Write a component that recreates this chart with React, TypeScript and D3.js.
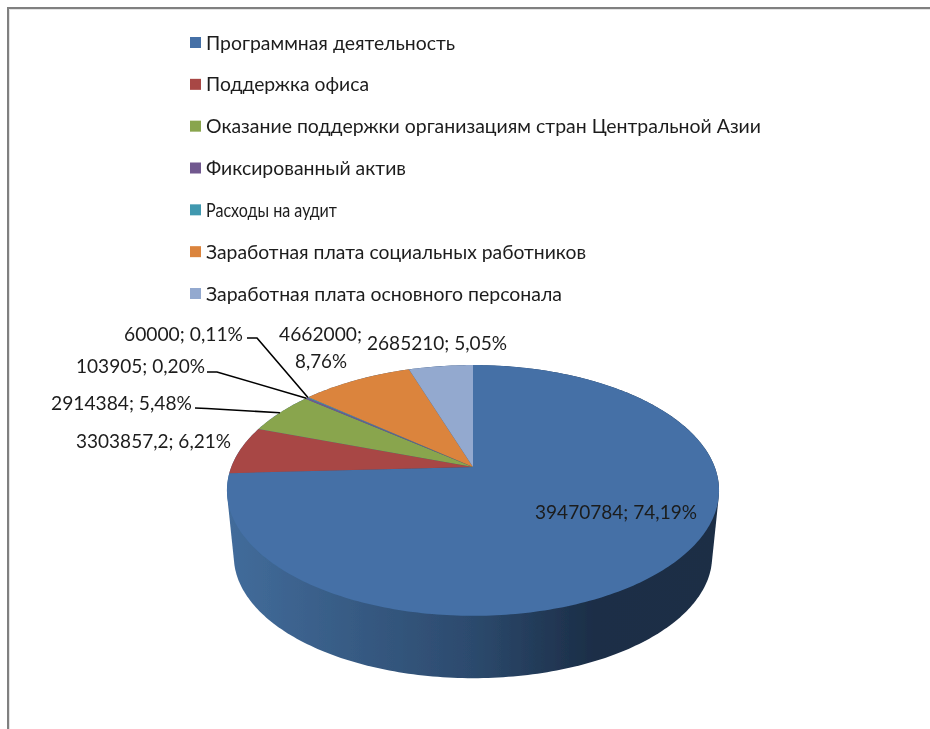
import React from "react";
import * as d3 from "d3";

const categories = [
  "Программная деятельность",
  "Поддержка офиса",
  "Оказание поддержки организациям стран Центральной Азии",
  "Фиксированный актив",
  "Расходы на аудит",
  "Заработная плата социальных работников",
  "Заработная плата основного персонала",
];
const values = [39470784, 3303857.2, 2914384, 103905, 60000, 4662000, 2685210];
const colors = ["#4470a6", "#a84644", "#89a54e", "#71588f", "#4198af", "#db843d", "#93a9cf"];

const dataLabels = [
  { lines: ["39470784; 74,19%"], x: 535, y: 512, w: [162] },
  { lines: ["3303857,2; 6,21%"], x: 76, y: 441, w: [155] },
  { lines: ["2914384; 5,48%"], x: 51, y: 403, w: [141] },
  { lines: ["103905; 0,20%"], x: 76, y: 366, w: [129] },
  { lines: ["60000; 0,11%"], x: 124, y: 334, w: [119] },
  { lines: ["4662000;", "8,76%"], x: 279, y: 334, w: [83, 52], dx: [0, 16] },
  { lines: ["2685210; 5,05%"], x: 367, y: 343, w: [140] },
];

const legendWidths = [249, 163, 555, 200, 131, 380, 356];
const leaderStarts: Record<number, [number, number][]> = {
  2: [[195, 408], [207, 408.5]],
  3: [[207, 372], [217, 372]],
  4: [[247, 338], [257, 338]],
};

const FONT = "Lato, 'Open Sans', 'Noto Sans', sans-serif";
const W = 930, H = 729;
const cx = 473, cy = 467;
const k = -0.187, Rx = 241.7, Ry = 121, depth = 66.5, shrink = 0.972;

const project = (a: number, s = 1, dy = 0): [number, number] => {
  const X = Math.sin(a), Y = -Math.cos(a);
  const d = 1 + k * Y;
  return [cx + (s * Rx * X) / d, cy + dy + (s * Ry * Y) / d];
};

const arcs = d3.pie<number>().sort(null)(values);
const line = d3.line();

const slicePath = (a0: number, a1: number) => {
  const steps = Math.max(2, Math.ceil((a1 - a0) * 60));
  const pts = d3.range(steps + 1).map((i) => project(a0 + ((a1 - a0) * i) / steps));
  return line([[cx, cy], ...pts]) + "Z";
};

const rim = d3.range(0, 360, 1).map((d) => (d * Math.PI) / 180);
const hull = d3.polygonHull([
  ...rim.map((a) => project(a)),
  ...rim.map((a) => project(a, shrink, depth)),
])!;
const sidePath = line(hull) + "Z";

const legendY = d3.scaleLinear().domain([0, 6]).range([43, 294]);

export default function App() {
  return (
    <svg width={W} height={H} style={{ position: "absolute", left: 0, top: 0, display: "block" }} fontFamily={FONT}>
      <defs>
        <linearGradient id="side" gradientUnits="userSpaceOnUse" x1={228} x2={719} y1={0} y2={0}>
          <stop offset="0" stopColor="#426c9b" />
          <stop offset="0.5" stopColor="#2c4a6d" />
          <stop offset="0.75" stopColor="#1b2d46" />
          <stop offset="1" stopColor="#1b2d45" />
        </linearGradient>
        <filter id="soft" x="-5%" y="-5%" width="110%" height="110%">
          <feGaussianBlur stdDeviation="0.45" />
        </filter>
      </defs>
      <rect width={W} height={H} fill="#ffffff" />
      <path d={`M8,${H}V8H${W}`} fill="none" stroke="#808080" strokeWidth={2} />
      <path d={`M9.5,${H}V9.5H${W}`} fill="none" stroke="#e4e4e4" strokeWidth={1} />

      <g filter="url(#soft)">
        <path d={sidePath} fill="url(#side)" />
        {arcs.map((a, i) => (
          <path key={i} d={slicePath(a.startAngle, a.endAngle)} fill={colors[i]} />
        ))}
        {categories.map((c, i) => (
          <g key={c}>
            <rect x={190} y={legendY(i) - 6} width={11} height={11} fill={colors[i]} />
            <text x={206} y={legendY(i) + 6.5} fontSize={19.5} fill="#1c1c1c" textLength={legendWidths[i]} lengthAdjust="spacingAndGlyphs">
              {c}
            </text>
          </g>
        ))}
        {Object.entries(leaderStarts).map(([idx, pts]) => {
          const a = arcs[+idx];
          const end = project((a.startAngle + a.endAngle) / 2);
          return <path key={idx} d={line([...pts, end])!} fill="none" stroke="#000" strokeWidth={1.6} />;
        })}
        {dataLabels.map((l, i) =>
          l.lines.map((t, j) => (
            <text key={t} x={l.x + (l.dx ? l.dx[j] : 0)} y={l.y + 7 + j * 27} fontSize={20} fill="#1c1c1c" textLength={l.w[j]} lengthAdjust="spacingAndGlyphs">
              {t}
            </text>
          ))
        )}
      </g>
    </svg>
  );
}
